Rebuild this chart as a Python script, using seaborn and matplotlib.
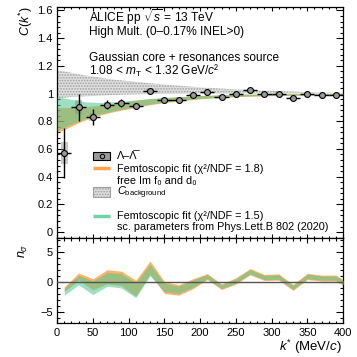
import numpy as np
import pandas as pd
import matplotlib
matplotlib.use("Agg")
import matplotlib.pyplot as plt
import seaborn as sns
from matplotlib.ticker import MultipleLocator, FuncFormatter
from matplotlib.patches import Rectangle

# ---------------- data ----------------
kstar = [10, 30, 50, 70, 90, 110, 130, 150, 170, 190, 210, 230, 250, 270, 290, 310, 330, 350, 370, 390]
ck = [0.57, 0.90, 0.83, 0.92, 0.93, 0.91, 1.02, 0.957, 0.955, 0.99, 1.012, 0.978, 0.998, 1.024,
      0.998, 1.0, 0.969, 0.998, 0.988, 0.988]
ck_stat = [0.18, 0.10, 0.058, 0.035, 0.03, 0.02, 0.02, 0.015, 0.012, 0.01, 0.01, 0.01, 0.008,
           0.008, 0.008, 0.008, 0.008, 0.008, 0.008, 0.008]
ck_sys = [0.08, 0.05, 0.03, 0.02, 0.015, 0.012, 0.012, 0.01, 0.01, 0.008, 0.008, 0.008, 0.008,
          0.008, 0.008, 0.008, 0.008, 0.008, 0.008, 0.008]

k_band = [0, 10, 20, 30, 40, 60, 80, 100, 125, 150, 200, 250, 300, 350, 400]
fit1_lo = [0.72, 0.74, 0.765, 0.79, 0.81, 0.845, 0.87, 0.89, 0.915, 0.935, 0.962, 0.978, 0.985, 0.988, 0.99]
fit1_hi = [0.90, 0.90, 0.90, 0.902, 0.905, 0.915, 0.93, 0.945, 0.96, 0.97, 0.985, 0.994, 0.998, 1.0, 1.0]
fit2_lo = [0.735, 0.755, 0.78, 0.80, 0.82, 0.852, 0.876, 0.895, 0.92, 0.94, 0.965, 0.98, 0.987, 0.99, 0.992]
fit2_hi = [0.975, 0.968, 0.958, 0.948, 0.94, 0.935, 0.94, 0.95, 0.962, 0.972, 0.986, 0.994, 0.998, 1.0, 1.0]
bkg_lo = [0.965, 0.97, 0.975, 0.978, 0.98, 0.985, 0.99, 0.993, 0.996, 0.998, 1.0, 1.0, 1.0, 1.0, 1.0]
bkg_hi = [1.165, 1.16, 1.15, 1.14, 1.13, 1.115, 1.10, 1.09, 1.077, 1.065, 1.045, 1.03, 1.02, 1.01, 1.005]

k_ns = [10, 30, 50, 70, 90, 110, 130, 150, 170, 190, 210, 230, 250, 270, 290, 310, 330, 350, 370, 390, 410]
ns1_lo = [-1.6, 0.3, -1.3, -0.3, -0.6, -2.4, 1.3, -1.9, -2.2, -1.1, 0.4, -1.25, -0.35, 1.2, 0.25, 0.3, -1.4, 0.4, 0.15, 0.15, -1.3]
ns1_hi = [-0.8, 1.5, 0.55, 2.05, 1.8, 0.3, 3.5, 0.1, -0.45, 0.55, 1.4, -0.3, 0.7, 2.25, 1.25, 1.35, -0.4, 1.45, 1.15, 1.15, -0.3]
ns2_lo = [-2.2, -0.45, -2.1, -0.7, -1.0, -2.6, 1.0, -1.6, -1.9, -0.9, 0.55, -1.1, -0.2, 1.35, 0.4, 0.45, -1.25, 0.55, 0.3, 0.3, -1.15]
ns2_hi = [-1.0, 1.1, 0.2, 1.6, 1.4, -0.1, 3.0, -0.2, -0.7, 0.35, 1.25, -0.45, 0.55, 2.1, 1.1, 1.2, -0.55, 1.3, 1.0, 1.0, -0.45]

df = pd.DataFrame({"k": kstar, "C": ck})

# ---------------- style ----------------
sns.set_theme(style="ticks")
plt.rcParams["font.family"] = ["Liberation Sans", "DejaVu Sans"]
plt.rcParams["mathtext.fontset"] = "custom"
plt.rcParams["mathtext.rm"] = "Liberation Sans"
plt.rcParams["mathtext.it"] = "Liberation Sans:italic"
plt.rcParams["mathtext.bf"] = "Liberation Sans:bold"
plt.rcParams["hatch.linewidth"] = 0.8
plt.rcParams["text.color"] = "black"
plt.rcParams["axes.labelcolor"] = "black"

ORANGE = "#ff8c1a"
GREEN = "#4cc795"
FS_TXT = 8.6
FS_LEG = 7.8
FS_TICK = 8

fig = plt.figure(figsize=(3.57, 3.57), dpi=100)
ax1 = fig.add_axes([0.160, 0.3333, 0.801, 0.6471])
ax2 = fig.add_axes([0.160, 0.0952, 0.801, 0.2381])

# ---------------- top panel ----------------
ax1.fill_between(k_band, bkg_lo, bkg_hi, facecolor="#dedede", edgecolor="#a0a0a0",
                 hatch="......", linewidth=0, zorder=1)
ax1.fill_between(k_band, fit1_lo, fit1_hi, color=ORANGE, alpha=0.65, linewidth=0, zorder=2)
ax1.fill_between(k_band, fit2_lo, fit2_hi, color=GREEN, alpha=0.55, linewidth=0, zorder=3)

for k, c, s in zip(kstar, ck, ck_sys):
    ax1.add_patch(Rectangle((k - 5, c - s), 10, 2 * s, facecolor="#888888", alpha=0.45,
                            edgecolor="none", zorder=4))
ax1.errorbar(kstar, ck, yerr=ck_stat, xerr=10, fmt="none", ecolor="black", elinewidth=1.0,
             capsize=0, zorder=5)
sns.scatterplot(data=df, x="k", y="C", ax=ax1, marker="o", s=18, color="#9a9a9a",
                edgecolor="black", linewidth=0.8, zorder=6, legend=False)

ax1.set_xlim(0, 400)
ax1.set_ylim(-0.043, 1.625)
ax1.yaxis.set_major_locator(MultipleLocator(0.2))
ax1.yaxis.set_minor_locator(MultipleLocator(0.04))
ax1.xaxis.set_major_locator(MultipleLocator(50))
ax1.xaxis.set_minor_locator(MultipleLocator(10))
ax1.yaxis.set_major_formatter(FuncFormatter(lambda v, p: "%g" % round(v, 2)))
ax1.set_xticklabels([])
ax1.set_xlabel("")
ax1.set_ylabel("")
ax1.tick_params(axis="both", which="both", direction="in", top=True, right=True,
                labelsize=FS_TICK, width=0.8, colors="black")
ax1.tick_params(axis="y", which="major", length=5, pad=3)
ax1.tick_params(axis="y", which="minor", length=2.5)
ax1.tick_params(axis="x", which="major", length=3)
ax1.tick_params(axis="x", which="minor", length=1.5)

def fx(xpx):
    return (xpx - 57) / 286

def fy(ypx):
    return (238 - ypx) / 231

tx = fx(89)
kw = dict(transform=ax1.transAxes, fontsize=FS_TXT, va="baseline", color="black")
ax1.text(tx, fy(22), r"ALICE pp $\sqrt{s}$ = 13 TeV", **kw)
ax1.text(tx, fy(35), "High Mult. (0\u20130.17% INEL>0)", **kw)
ax1.text(tx, fy(61), "Gaussian core + resonances source", **kw)
ax1.text(tx, fy(75), r"1.08 < $m_{\mathrm{T}}$ < 1.32 GeV/$c$" + "\u00b2", **kw)

# manual legend
lx0, lx1, ltx = fx(93), fx(110), fx(117)
lk = dict(transform=ax1.transAxes, fontsize=FS_LEG, va="baseline", color="black")
ax1.add_patch(Rectangle((lx0, fy(160)), lx1 - lx0, fy(152) - fy(160), transform=ax1.transAxes,
                        facecolor="#9a9a9a", edgecolor="black", linewidth=0.8, zorder=7))
ax1.plot([(lx0 + lx1) / 2], [fy(156)], transform=ax1.transAxes, marker="o", ms=3.2,
         mfc="#9a9a9a", mec="black", mew=0.7, zorder=8)
ax1.text(ltx, fy(159), "\u039b\u2013\u039b\u0305", **lk)
ax1.plot([lx0, lx1], [fy(168), fy(168)], transform=ax1.transAxes, color=ORANGE, lw=2.5, alpha=0.8,
         solid_capstyle="butt")
ax1.text(ltx, fy(171.5), "Femtoscopic fit (\u03c7\u00b2/NDF = 1.8)", **lk)
ax1.text(ltx, fy(183.5), "free Im f\u2080 and d\u2080", **lk)
ax1.add_patch(Rectangle((lx0, fy(197)), lx1 - lx0, fy(187) - fy(197), transform=ax1.transAxes,
                        facecolor="#dedede", edgecolor="#a0a0a0", hatch="......", linewidth=0.8, zorder=7))
ax1.text(ltx, fy(195.5), r"$C_{\mathrm{background}}$", **lk)
ax1.plot([lx0, lx1], [fy(216), fy(216)], transform=ax1.transAxes, color=GREEN, lw=2.5, alpha=0.8,
         solid_capstyle="butt")
ax1.text(ltx, fy(219), "Femtoscopic fit (\u03c7\u00b2/NDF = 1.5)", **lk)
ax1.text(ltx, fy(230), "sc. parameters from Phys.Lett.B 802 (2020)", **lk)

# ---------------- bottom panel ----------------
ax2.fill_between(k_ns, ns1_lo, ns1_hi, color=ORANGE, alpha=0.65, linewidth=0, zorder=2)
ax2.fill_between(k_ns, ns2_lo, ns2_hi, color=GREEN, alpha=0.55, linewidth=0, zorder=3)
ax2.axhline(0, color="#555555", lw=1.0, zorder=4)
ax2.set_xlim(0, 400)
ax2.set_ylim(-6.83, 7.33)
ax2.yaxis.set_major_locator(MultipleLocator(5))
ax2.yaxis.set_minor_locator(MultipleLocator(1))
ax2.xaxis.set_major_locator(MultipleLocator(50))
ax2.xaxis.set_minor_locator(MultipleLocator(10))
ax2.yaxis.set_major_formatter(FuncFormatter(lambda v, p: ("%g" % v).replace("-", "\u2212")))
ax2.tick_params(axis="both", which="both", direction="in", top=True, right=True,
                labelsize=FS_TICK, width=0.8, colors="black")
ax2.tick_params(axis="y", which="major", length=5, pad=3)
ax2.tick_params(axis="y", which="minor", length=2.5)
ax2.tick_params(axis="x", which="major", length=3.5, pad=3.5)
ax2.tick_params(axis="x", which="minor", length=1.8)
ax2.set_xlabel("")
ax2.set_ylabel("")

for ax in (ax1, ax2):
    for sp in ax.spines.values():
        sp.set_linewidth(0.9)
        sp.set_color("black")

fig.text(26 / 357, 1 - 7 / 357, r"$C(k^{*})$", rotation=90, ha="center", va="top", fontsize=9)
fig.text(23 / 357, 1 - 244 / 357, r"$n_{\sigma}$", rotation=90, ha="center", va="top", fontsize=9)
fig.text(342 / 357, 1 - 351 / 357, r"$k^{*}$ (MeV/$c$)", ha="right", va="baseline", fontsize=9.5)

fig.savefig("out.png", dpi=100)
